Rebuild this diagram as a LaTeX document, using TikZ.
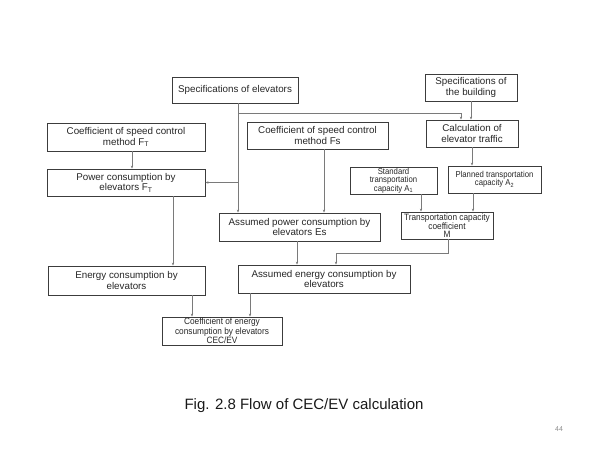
\documentclass[tikz,border=0pt]{standalone}
\usepackage{fontspec}
\setmainfont{Liberation Sans}
\newfontfamily\narrowsans[FakeStretch=0.9]{Liberation Sans}
\usetikzlibrary{arrows.meta,calc}
\definecolor{boxline}{HTML}{3C3C3C}
\definecolor{conline}{HTML}{7A7A7A}
\newcommand{\sub}[1]{\textsubscript{#1}}

\begin{document}
\begin{tikzpicture}[x=1pt,y=-1pt]
                        \tikzstyle{box}=[draw=boxline,line width=0.9pt,align=center,inner sep=1pt,
                            text=black!85,font=\fontsize{9.8}{10.5}\selectfont]
                        \tikzstyle{small box}=[box,font=\narrowsans\fontsize{8.6}{8.4}\selectfont]
                        \tikzstyle{tight box}=[box,font=\narrowsans\fontsize{9.2}{7.9}\selectfont]
                        \tikzstyle{arr}=[draw=conline,line width=0.55pt,-{Stealth[length=3pt,width=2.4pt]}]
                        \useasboundingbox (0,0) rectangle (600,450);
                        % top row
                        \node[box,minimum width=126,minimum height=26] (specelev) at (235,90)
                            {Specifications of elevators};
                        \node[box,minimum width=92,minimum height=27] (specbuild) at (471,87.5)
                            {Specifications of\\the building};
                        % second row
                        \node[box,minimum width=158,minimum height=28] (coefft) at (126,137)
                            {Coefficient of speed control\\method F\sub{T}};
                        \node[box,minimum width=141,minimum height=27] (coeffs) at (317.5,135.5)
                            {Coefficient of speed control\\method Fs};
                        \node[box,minimum width=92,minimum height=27] (calctraffic) at (472,133.5)
                            {Calculation of\\elevator traffic};
                        % third row
                        \node[box,minimum width=158,minimum height=27] (powerft) at (126,182.5)
                            {Power consumption by\\elevators F\sub{T}};
                        \node[small box,minimum width=87,minimum height=27] (stdcap) at (393.5,180.5)
                            {Standard\\transportation\\capacity A\sub{1}};
                        \node[small box,minimum width=93,minimum height=27] (plancap) at (494.5,179.5)
                            {Planned transportation\\capacity A\sub{2}};
                        % fourth row
                        \node[box,minimum width=161,minimum height=28] (assumedpower) at (299.5,227)
                            {Assumed power consumption by\\elevators Es};
                        \node[tight box,minimum width=92,minimum height=27] (transcoef) at (447,225.5)
                            {Transportation capacity\\coefficient\\M};
                        % fifth row
                        \node[box,minimum width=157,minimum height=29] (energycons) at (126.5,280.5)
                            {Energy consumption by\\elevators};
                        \node[box,minimum width=172,minimum height=28] (assumedenergy) at (324,279)
                            {Assumed energy consumption by\\elevators};
                        % result
                        \node[tight box,minimum width=120,minimum height=28] (cec) at (222,331)
                            {Coefficient of energy\\consumption by elevators\\CEC/EV};
                        % caption and page number
                        \node[font=\fontsize{15}{18}\selectfont,text=black!90] (caption) at (304,406)
                            {Fig. 2.8 Flow of CEC/EV calculation};
                        \node[font=\rmfamily\fontsize{7}{8}\selectfont,text=black!45] (pagenum) at (559,429) {44};
                        % connectors
                        \coordinate (trunk) at ([xshift=3pt]specelev.south);
                        \coordinate (split) at (trunk |- 0,113);
                        \draw[arr] (trunk) -- (trunk |- assumedpower.north);
                        \draw[arr] (split) -| ([xshift=-11pt]calctraffic.north);
                        \draw[arr] (trunk |- powerft.east) -- (powerft.east);
                        \draw[arr] (specbuild.south) -- (specbuild.south |- calctraffic.north);
                        \draw[arr] ([xshift=6pt]coefft.south) -- ([xshift=6pt]powerft.north);
                        \draw[arr] ([xshift=47pt]powerft.south) -- ([xshift=47pt]powerft.south |- energycons.north);
                        \draw[arr] ([xshift=6.5pt]coeffs.south) -- ([xshift=6.5pt]coeffs.south |- assumedpower.north);
                        \draw[arr] (calctraffic.south) -- (calctraffic.south |- plancap.north);
                        \draw[arr] ([xshift=27.5pt]stdcap.south) -- ([xshift=27.5pt]stdcap.south |- transcoef.north);
                        \draw[arr] ([xshift=-21.5pt]plancap.south) -- ([xshift=-21.5pt]plancap.south |- transcoef.north);
                        \draw[arr] ([xshift=-2.5pt]assumedpower.south) -- ([xshift=-2.5pt]assumedpower.south |- assumedenergy.north);
                        \draw[arr] ([xshift=1pt]transcoef.south) -- ++(0,14) -| ([xshift=12pt]assumedenergy.north);
                        \draw[arr] ([xshift=65.5pt]energycons.south) -- ([xshift=65.5pt]energycons.south |- cec.north);
                        \draw[arr] ([xshift=-74pt]assumedenergy.south) -- ([xshift=-74pt]assumedenergy.south |- cec.north);
                    \end{tikzpicture}
\end{document}
